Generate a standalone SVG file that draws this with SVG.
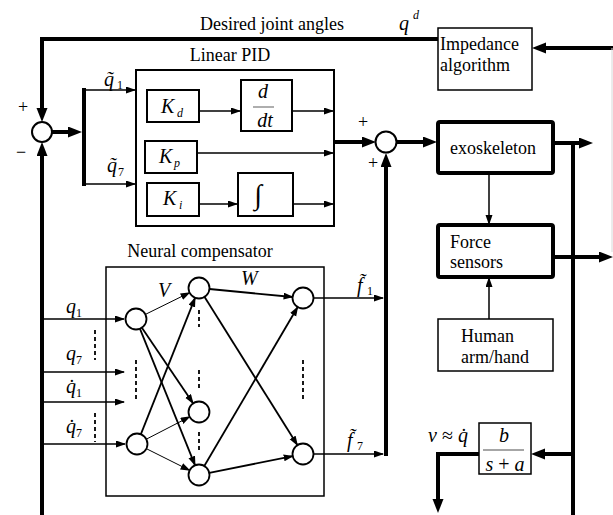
<svg xmlns="http://www.w3.org/2000/svg" width="613" height="515" viewBox="0 0 613 515">
<defs>
<style>
.t{font-family:"Liberation Serif","Times New Roman",serif;font-size:18px;fill:#000}
.m{font-family:"Liberation Serif","Times New Roman",serif;font-style:italic;font-size:20px;fill:#000}
.sb{font-size:12px;font-style:normal}
.si{font-size:12px;font-style:italic}
.bx{fill:#fff;stroke:#000;stroke-width:2}
.bt{fill:#fff;stroke:#000;stroke-width:1.5}
.bk{fill:#fff;stroke:#000;stroke-width:4}
.fr{fill:none}
.th{fill:none;stroke:#000;stroke-width:4}
.tn{fill:none;stroke:#000;stroke-width:1.5}
.nw{fill:none;stroke:#000;stroke-width:1}
.nm{fill:none;stroke:#000;stroke-width:1.8}
.ds{fill:none;stroke:#000;stroke-width:1.8;stroke-dasharray:4 3}
.nd{fill:#fff;stroke:#000;stroke-width:1.8}
</style>
<marker id="a" markerUnits="userSpaceOnUse" markerWidth="10" markerHeight="8" refX="9" refY="3.5" orient="auto"><path d="M0,0 L10,3.5 L0,7 z" fill="#000"/></marker>
<marker id="b" markerUnits="userSpaceOnUse" markerWidth="14" markerHeight="12" refX="9" refY="5.5" orient="auto"><path d="M0,0 L14,5.5 L0,11 z" fill="#000"/></marker>
</defs>
<rect width="613" height="515" fill="#fff"/>

<g id="connectors">
<path class="th" d="M438,39 H42 V117" marker-end="url(#b)"/>
<path class="th" d="M42,515 V147" marker-end="url(#b)"/>
<path class="th" d="M52,132 H77" marker-end="url(#b)"/>
<path class="th" d="M84,88 V186"/>
<path class="tn" d="M84,90 H135" marker-end="url(#a)"/>
<path class="tn" d="M84,184 H135" marker-end="url(#a)"/>
<path class="tn" d="M199,111 H240" marker-end="url(#a)"/>
<path class="tn" d="M292,111 H333" marker-end="url(#a)"/>
<path class="tn" d="M197,153 H333" marker-end="url(#a)"/>
<path class="tn" d="M199,204 H237" marker-end="url(#a)"/>
<path class="tn" d="M293,204 H333" marker-end="url(#a)"/>
<path class="th" d="M334,142 H371" marker-end="url(#b)"/>
<path class="th" d="M386,456 V158" marker-end="url(#b)"/>
<path class="th" d="M396.5,142 H432" marker-end="url(#b)"/>
<path class="th" d="M553,143 H588" marker-end="url(#b)"/>
<path class="th" d="M573,143 V515"/>
<path class="th" d="M553,257 H608" marker-end="url(#b)"/>
<path class="th" d="M613,48 H537" marker-end="url(#b)"/>
<path d="M612,48 V252" stroke="#d8d8d8" stroke-width="1" fill="none"/>
<path class="th" d="M573,454 H536" marker-end="url(#b)"/>
<path class="th" d="M479,454 H438 V508" marker-end="url(#b)"/>
<path class="tn" d="M489,173 V224" marker-end="url(#a)"/>
<path class="tn" d="M489,319 V278" marker-end="url(#a)"/>
<path class="tn" d="M42,319 H124" marker-end="url(#a)"/>
<path class="tn" d="M42,372 H124" marker-end="url(#a)"/>
<path class="tn" d="M42,402 H124" marker-end="url(#a)"/>
<path class="tn" d="M42,444 H125" marker-end="url(#a)"/>
<path class="tn" d="M313.5,298 H383" marker-end="url(#a)"/>
<path class="tn" d="M313.5,454 H383" marker-end="url(#a)"/>
<path class="nw" d="M145.4,314.4 L189.6,292.6" marker-end="url(#a)"/>
<path class="nm" d="M141.9,327.7 L193.1,403.3" marker-end="url(#a)"/>
<path class="nm" d="M139.9,328.7 L195.1,465.3" marker-end="url(#a)"/>
<path class="nm" d="M140.9,434.2 L195.1,297.8" marker-end="url(#a)"/>
<path class="nw" d="M146.3,439.2 L189.7,416.8" marker-end="url(#a)"/>
<path class="nw" d="M146.4,448.7 L189.6,470.3" marker-end="url(#a)"/>
<path class="nm" d="M209.4,289 L292.6,297" marker-end="url(#a)"/>
<path class="nm" d="M204.6,296.9 L297.4,445.1" marker-end="url(#a)"/>
<path class="nm" d="M204.3,466 L297.7,307" marker-end="url(#a)"/>
<path class="nm" d="M209.3,472.9 L292.7,456.1" marker-end="url(#a)"/>
<path class="ds" d="M95,330 V360 M95,413 V442 M136,360 V402 M199,310 V327 M199,370 V390 M199,432 V452 M303,360 V402"/>
</g>

<text class="t" x="200" y="30">Desired joint angles</text>
<text class="m" x="399" y="30">q<tspan class="si" x="413" y="19">d</tspan></text>

<g id="sum1">
<circle class="bx" cx="42" cy="132" r="10"/>
<text class="t" x="23" y="113" text-anchor="middle">+</text>
<text class="t" x="21" y="158" text-anchor="middle">−</text>
</g>

<g id="pid">
<text class="t" x="230" y="61" text-anchor="middle">Linear PID</text>
<rect class="bx fr" x="136" y="70" width="198" height="156"/>
<text class="m" x="104" y="86">q̃<tspan class="sb" x="117" y="89">1</tspan></text>
<text class="m" x="107" y="172">q̃<tspan class="sb" x="118" y="176">7</tspan></text>
</g>
<g id="kd"><rect class="bx" x="147" y="90" width="52" height="32"/><text class="m" x="161" y="113">K<tspan class="si" x="177" y="117">d</tspan></text></g>
<g id="ddt"><rect class="bx" x="241" y="80" width="51" height="51"/>
<text class="m" x="263" y="98" text-anchor="middle">d</text>
<path d="M253,107 H274" stroke="#777" stroke-width="1.2"/>
<text class="m" x="265" y="127" text-anchor="middle">dt</text></g>
<g id="kp"><rect class="bx" x="145" y="141" width="52" height="32"/><text class="m" x="159" y="163">K<tspan class="si" x="174" y="167">p</tspan></text></g>
<g id="ki"><rect class="bx" x="147" y="183" width="52" height="33"/><text class="m" x="163" y="205">K<tspan class="si" x="179" y="209">i</tspan></text></g>
<g id="int"><rect class="bx" x="238" y="173" width="55" height="43"/><text class="t" x="258" y="204" text-anchor="middle" style="font-size:28px">∫</text></g>

<g id="sum2">
<circle class="bx" cx="386" cy="142" r="10.5"/>
<text class="t" x="363" y="128" text-anchor="middle">+</text>
<text class="t" x="373" y="169" text-anchor="middle">+</text>
</g>

<g id="impedance"><rect class="bt" x="438" y="28" width="94" height="62"/>
<text class="t" x="440" y="50">Impedance</text><text class="t" x="440" y="71">algorithm</text></g>
<g id="exo"><rect class="bk" x="438" y="122" width="115" height="51" rx="2"/><text class="t" x="450" y="154">exoskeleton</text></g>
<g id="force"><rect class="bk" x="438" y="225" width="115" height="52" rx="2"/>
<text class="t" x="450" y="248">Force</text><text class="t" x="450" y="268">sensors</text></g>
<g id="human"><rect class="bt" x="438" y="319" width="115" height="52"/>
<text class="t" x="461" y="342">Human</text><text class="t" x="461" y="363">arm/hand</text></g>
<g id="filter"><rect class="bt" x="479" y="423" width="52" height="51"/>
<text class="m" x="504" y="442" text-anchor="middle">b</text>
<path d="M483,450 H524" stroke="#888" stroke-width="1.5"/>
<text class="m" x="505" y="471" text-anchor="middle">s<tspan style="font-style:normal"> + </tspan>a</text>
<text class="m" x="428" y="442">v <tspan style="font-style:normal">≈</tspan> q̇</text></g>

<g id="neural">
<text class="t" x="200" y="257" text-anchor="middle">Neural compensator</text>
<rect class="bt fr" x="106" y="267" width="218" height="229"/>
<circle class="nd" cx="136" cy="319" r="10.5"/>
<circle class="nd" cx="137" cy="444" r="10.5"/>
<circle class="nd" cx="199" cy="288" r="10.5"/>
<circle class="nd" cx="199" cy="412" r="10.5"/>
<circle class="nd" cx="199" cy="475" r="10.5"/>
<circle class="nd" cx="303" cy="298" r="10.5"/>
<circle class="nd" cx="303" cy="454" r="10.5"/>
<text class="m" x="158" y="297">V</text>
<text class="m" x="241" y="285">W</text>
<text class="m" x="66" y="313">q<tspan class="sb" x="76" y="317">1</tspan></text>
<text class="m" x="66" y="360">q<tspan class="sb" x="76" y="364">7</tspan></text>
<text class="m" x="66" y="393">q̇<tspan class="sb" x="76" y="397">1</tspan></text>
<text class="m" x="66" y="433">q̇<tspan class="sb" x="76" y="437">7</tspan></text>
<text class="m" x="357" y="292">f̃<tspan class="sb" x="367" y="295">1</tspan></text>
<text class="m" x="347" y="447">f̃<tspan class="sb" x="357" y="450">7</tspan></text>
</g>
</svg>
